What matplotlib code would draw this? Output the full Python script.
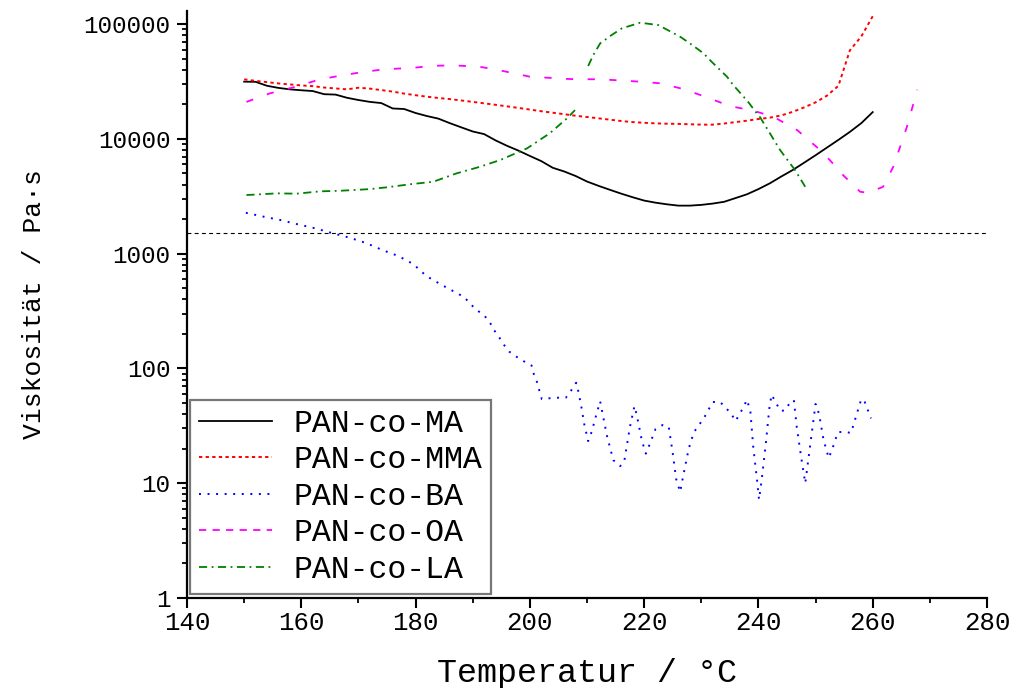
import numpy as np
import matplotlib
matplotlib.use("Agg")
import matplotlib.pyplot as plt
from matplotlib.ticker import LogLocator, NullFormatter, FixedLocator, FixedFormatter, MultipleLocator
from matplotlib.lines import Line2D

plt.rcParams["font.family"] = ["Liberation Mono", "DejaVu Sans Mono"]

# Temperatur-Raster fuer MA / MMA (°C)
temp_ma = [150, 152, 154, 156, 158, 160, 162, 164, 166, 168, 170, 172, 174, 176,
           178, 180, 182, 184, 186, 188, 190, 192, 194, 196, 198, 200, 202, 204,
           206, 208, 210, 212, 214, 216, 218, 220, 222, 224, 226, 228, 230, 232,
           234, 236, 238, 240, 242, 244, 246, 248, 250, 252, 254, 256, 258, 260]
visc_ma = [31500, 31400, 29000, 27800, 27000, 26500, 26100, 24500, 24300, 22800,
           21800, 21000, 20500, 18400, 18200, 16800, 15800, 15000, 13700, 12600,
           11600, 11000, 9700, 8700, 7900, 7100, 6400, 5600, 5200, 4750,
           4250, 3900, 3600, 3330, 3100, 2900, 2780, 2690, 2620, 2620,
           2660, 2730, 2830, 3050, 3290, 3650, 4100, 4700, 5350, 6200,
           7200, 8400, 9800, 11500, 13700, 17100]
visc_mma = [33000, 32000, 31200, 30400, 29800, 29200, 28800, 28000, 27500, 27000,
            27900, 27400, 26600, 25800, 24800, 24000, 23300, 22700, 22200, 21600,
            21000, 20400, 19800, 19200, 18600, 18000, 17400, 16900, 16400, 15900,
            15500, 15100, 14700, 14300, 14000, 13800, 13650, 13550, 13500, 13400,
            13300, 13300, 13600, 14000, 14400, 14900, 15300, 16000, 17200, 18800,
            20800, 23800, 29000, 59000, 78000, 117000]

temp_ba = [150.3, 153.4, 156.4, 159.4, 162.5, 165.4, 168.4, 171.3, 174.1, 177.0,
           179.6, 181.9, 184.6, 187.3, 188.5, 189.6, 190.7, 192.0, 193.0, 193.7,
           194.6, 195.4, 196.4, 197.6, 199.0, 200.3, 200.7, 201.3, 201.7, 202.1,
           203.5, 205.0, 206.3, 207.2, 208.1, 208.4, 209.0, 209.5, 210.2, 210.8,
           211.6, 212.3, 212.6, 213.5, 214.6, 215.8, 216.5, 217.5, 218.3, 218.7,
           219.6, 220.3, 220.9, 222.0, 223.2, 224.3, 225.0, 225.6, 226.3, 226.9,
           227.8, 228.7, 230.5, 232.0, 233.3, 235.2, 236.0, 237.3, 238.0, 238.6,
           239.1, 239.8, 240.1, 240.6, 241.3, 241.9, 242.3, 243.1, 243.8, 244.6,
           245.5, 246.2, 246.7, 247.6, 248.2, 248.6, 249.4, 250.0, 250.6, 251.4,
           252.3, 252.9, 253.9, 255.0, 256.2, 257.1, 258.0, 258.6, 259.7]
visc_ba = [2270, 2100, 1960, 1800, 1660, 1510, 1380, 1240, 1080, 953,
           811, 638, 533, 451, 419, 364, 323, 290, 252, 217,
           188, 162, 140, 127, 115, 106, 89, 75, 63, 54,
           55, 55.6, 55.6, 64, 75, 66, 46.7, 33, 23.3, 27.9,
           39, 51.7, 43.4, 25.8, 15.9, 14.1, 15.3, 30.7, 47, 39.5,
           23.5, 18.1, 21.4, 29.7, 32.1, 31, 18.3, 10.9, 8.4, 12,
           20, 27.8, 37.2, 51, 51, 40.6, 34.8, 45.2, 53.4, 41.7,
           20.5, 10.2, 7.2, 11, 22.3, 44.6, 59, 50, 42.9, 42.9,
           50, 53, 31, 15.4, 10, 14.3, 29, 49, 40.3, 23.8,
           16.6, 19.7, 27.8, 28.1, 27.4, 38.5, 54.1, 51, 36.7]

temp_oa = [150.4, 154.5, 158.6, 163.3, 166.8, 170.3, 174.3, 179.6, 183.1, 186.6,
           191.3, 194.8, 200.0, 203.0, 207.0, 212.3, 215.3, 219.3, 222.8, 226.8,
           231.0, 235.0, 239.1, 242.6, 246.8, 250.8, 252.5, 254.8, 257.8, 259.2,
           261.8, 263.6, 266.0, 267.8]
visc_oa = [21000, 24900, 28100, 33000, 35500, 37900, 40300, 41600, 43300, 43700,
           42400, 39500, 34800, 34100, 33200, 33000, 32400, 31500, 30500, 27200,
           23000, 19300, 17600, 15600, 11900, 7990, 6530, 4840, 3460, 3390,
           3820, 5710, 12800, 26800]

# Luecke in der LA-Messung zwischen 208 und 210 °C
temp_la = [150.4, 155.7, 159.2, 163.3, 166.8, 172.0, 174.9, 179.0, 183.1, 187.2,
           191.3, 194.8, 199.5, 203.5, 206.5, 207.9, 209.0, 210.2, 211.1, 212.3,
           214.3, 216.1, 219.3, 222.5, 226.3, 228.0, 230.4, 231.8, 234.5, 235.6,
           238.2, 239.7, 240.3, 242.0, 243.8, 246.4, 248.2]
visc_la = [3240, 3350, 3330, 3490, 3530, 3650, 3780, 4020, 4230, 5010,
           5720, 6540, 8260, 11200, 15100, 17800, np.nan, 43100, 53700, 67900,
           80200, 91800, 102800, 98000, 77600, 67900, 55600, 47000, 34800, 29400,
           21000, 16700, 15400, 11200, 7980, 5350, 3820]

grenze = 1500
labels = ["PAN-co-MA", "PAN-co-MMA", "PAN-co-BA", "PAN-co-OA", "PAN-co-LA"]
y_ticks = [1, 10, 100, 1000, 10000, 100000]

fig = plt.figure(figsize=(10.1, 6.88), dpi=100)
ax = fig.add_axes([187 / 1010, 1 - 598 / 688, 800 / 1010, 587 / 688])

ax.plot(temp_ma, visc_ma, color="black", lw=1.3)
ax.plot(temp_ma, visc_mma, color="red", lw=1.4, dashes=(1.7, 1.7))
ax.plot(temp_ba, visc_ba, color="blue", lw=1.4, dashes=(1.0, 3.4))
ax.plot(temp_oa, visc_oa, color="#FF00FF", lw=1.3, dashes=(4.0, 8.0))
ax.plot(temp_la, visc_la, color="#008000", lw=1.3, dashes=(4.5, 2.5, 1.0, 2.5))
ax.axhline(grenze, color="black", lw=0.8, dashes=(3.5, 3.0))

ax.set_yscale("log")
ax.set_xlim(140, 280)
ax.set_ylim(1, 1.3e5)
ax.yaxis.set_major_locator(FixedLocator(y_ticks))
ax.yaxis.set_major_formatter(FixedFormatter([str(v) for v in y_ticks]))
ax.yaxis.set_minor_locator(LogLocator(base=10, subs=np.arange(2, 10)))
ax.yaxis.set_minor_formatter(NullFormatter())
ax.xaxis.set_major_locator(MultipleLocator(20))
ax.xaxis.set_minor_locator(MultipleLocator(10))

for side in ("top", "right"):
    ax.spines[side].set_visible(False)
for side in ("left", "bottom"):
    ax.spines[side].set_linewidth(1.6)

ax.tick_params(which="major", direction="out", length=7, width=1.5)
ax.tick_params(which="minor", direction="out", length=3.5, width=1.3)
ax.tick_params(axis="x", labelsize=18.5, pad=2)
ax.tick_params(axis="y", labelsize=17.5, pad=5)

ax.set_xlabel("Temperatur / °C", fontsize=24, labelpad=17)
ax.set_ylabel("Viskosität / Pa·s", fontsize=19, labelpad=27)

# Legende mit eigenen Strichmustern (dichter als im Plot)
handles = [
    Line2D([], [], color="black", lw=1.3),
    Line2D([], [], color="red", lw=1.4, dashes=(1.7, 1.7)),
    Line2D([], [], color="blue", lw=1.4, dashes=(1.0, 3.4)),
    Line2D([], [], color="#FF00FF", lw=1.3, dashes=(4.0, 3.5)),
    Line2D([], [], color="#008000", lw=1.3, dashes=(4.5, 2.5, 1.0, 2.5)),
]
leg = ax.legend(handles, labels, loc="lower left", bbox_to_anchor=(0.004, 0.007),
                borderaxespad=0, fontsize=22.7, handlelength=2.3, handletextpad=0.7,
                labelspacing=0.21, borderpad=0.28, fancybox=False, framealpha=1)
leg.get_frame().set_edgecolor("#777777")
leg.get_frame().set_linewidth(1.6)

fig.savefig("out.png", dpi=100)
